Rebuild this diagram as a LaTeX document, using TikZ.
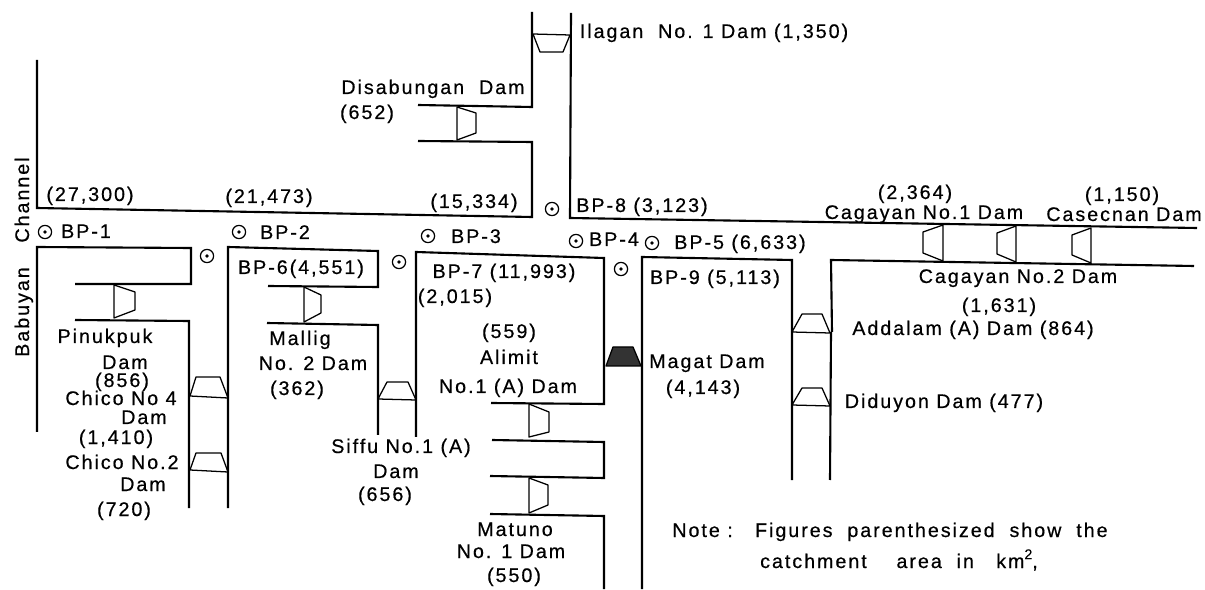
\documentclass[tikz,border=0pt]{standalone}
\usepackage{fontspec}
\setmainfont[LetterSpace=10,FakeBold=0.5]{Liberation Sans}
\begin{document}
\begin{tikzpicture}[x=0.025cm, y=-0.025cm, font=\fontsize{14}{16}\selectfont]
\tikzstyle{river}=[line width=1.5pt, line join=miter]
\tikzstyle{damline}=[line width=0.9pt, line join=round]
\tikzstyle{lbl}=[anchor=base, inner sep=0pt]
\tikzstyle{gauge}=[draw, circle, line width=0.9pt, minimum size=0.33cm, inner sep=0pt, path picture={\fill (path picture bounding box.center) circle (1.3pt);}]
\useasboundingbox (0,0) rectangle (1205,590);
% main river and the Ilagan side
\draw[river] (37,60) -- (37,208) -- (532,217) -- (532,142) -- (418,141);
\draw[river] (418,105) -- (532,107) -- (532,12);
\draw[river] (571,13) -- (570,218) -- (1197,228);
\draw[river] (832,332) -- (831,260) -- (1194,266);
\draw[river] (831,332) -- (830,480);
% Pinukpuk and Chico
\draw[river] (37,432) -- (37,247) -- (191,248) -- (191,284) -- (75,284);
\draw[river] (75,320) -- (189,321) -- (189,508);
\draw[river] (228,508) -- (228,247) -- (378,251) -- (378,287) -- (268,286);
% Mallig and Siffu
\draw[river] (267,323) -- (378,325) -- (378,435);
\draw[river] (416,437) -- (416,252) -- (604,258) -- (604,404) -- (491,403);
% Alimit and Matuno
\draw[river] (492,440) -- (604,442) -- (604,478) -- (490,476);
\draw[river] (490,514) -- (604,516) -- (604,589);
% Magat and BP-9
\draw[river] (642,589) -- (642,257) -- (792,260) -- (792,480);
% dams, left to right
\draw[damline] (114,285) -- (114,318) -- (135,310) -- (135,292) -- cycle;
\draw[damline] (190,396) -- (196,377) -- (220,377) -- (228,398) -- cycle;
\draw[damline] (190,470) -- (196,453) -- (221,453) -- (228,472) -- cycle;
\draw[damline] (304,287) -- (304,322) -- (321,313) -- (321,295) -- cycle;
\draw[damline] (378,399) -- (387,382) -- (408,382) -- (416,400) -- cycle;
\draw[damline] (457,107) -- (457,140) -- (476,133) -- (476,113) -- cycle;
\draw[damline] (533,34) -- (540,52) -- (563,52) -- (570,35) -- cycle;
\draw[damline] (529,404) -- (529,437) -- (549,432) -- (549,412) -- cycle;
\draw[damline] (529,478) -- (529,513) -- (548,505) -- (548,485) -- cycle;
\draw[damline, fill=black!80] (606,366) -- (613,347) -- (633,347) -- (641,366) -- cycle;
\draw[damline] (792,332) -- (802,314) -- (822,314) -- (830,333) -- cycle;
\draw[damline] (792,405) -- (802,388) -- (822,388) -- (830,406) -- cycle;
\draw[damline] (943,225) -- (923,232) -- (923,253) -- (943,261) -- cycle;
\draw[damline] (1016,226) -- (997,233) -- (997,254) -- (1016,262) -- cycle;
\draw[damline] (1091,228) -- (1072,235) -- (1072,255) -- (1091,263) -- cycle;
% base points
\node[gauge] (gaugeA) at (45,232) {};
\node[gauge] (gaugeB) at (207,256) {};
\node[gauge] (gaugeC) at (239,232) {};
\node[gauge] (gaugeD) at (399,262) {};
\node[gauge] (gaugeE) at (428,236) {};
\node[gauge] (gaugeF) at (552,209) {};
\node[gauge] (gaugeG) at (576,241) {};
\node[gauge] (gaugeH) at (652,243) {};
\node[gauge] (gaugeI) at (621,269) {};
% base point labels
\node[lbl] (bpA) at (86,238) {BP-1};
\node[lbl] (bpB) at (285,239) {BP-2};
\node[lbl] (bpC) at (476,243) {BP-3};
\node[lbl] (bpD) at (614,246) {BP-4};
\node[lbl] (bpE) at (740,249) {BP-5 (6,633)};
\node[lbl] (bpF) at (301,274) {BP-6(4,551)};
\node[lbl] (bpG) at (504,278) {BP-7 (11,993)};
\node[lbl] (bpH) at (642,212) {BP-8 (3,123)};
\node[lbl] (bpI) at (715,284) {BP-9 (5,113)};
% catchment areas on the main river
\node[lbl] (areaA) at (90,201) {(27,300)};
\node[lbl] (areaB) at (269,203) {(21,473)};
\node[lbl] (areaC) at (474,208) {(15,334)};
\node[lbl] (areaD) at (455,303) {(2,015)};
% dam labels
\node[lbl] (ilagan) at (714,38) {Ilagan\ \ No. 1 Dam (1,350)};
\node[lbl] (disab) at (433,94) {Disabungan\ \ Dam};
\node[lbl] (disabA) at (367,119) {(652)};
\node[lbl] (pinuk) at (105,343) {Pinukpuk};
\node[lbl] (pinukB) at (125,369) {Dam};
\node[lbl] (pinukC) at (122,387) {(856)};
\node[lbl] (chicoF) at (121,405) {Chico No 4};
\node[lbl] (chicoFb) at (144,424) {Dam};
\node[lbl] (chicoFc) at (116,444) {(1,410)};
\node[lbl] (chicoT) at (122,469) {Chico No.2};
\node[lbl] (chicoTb) at (143,491) {Dam};
\node[lbl] (chicoTc) at (124,516) {(720)};
\node[lbl] (mallig) at (300,345) {Mallig};
\node[lbl] (malligB) at (313,370) {No. 2 Dam};
\node[lbl] (malligC) at (297,395) {(362)};
\node[lbl] (siffu) at (401,453) {Siffu No.1 (A)};
\node[lbl] (siffuB) at (396,478) {Dam};
\node[lbl] (siffuC) at (385,501) {(656)};
\node[lbl] (alimitA) at (509,338) {(559)};
\node[lbl] (alimit) at (509,364) {Alimit};
\node[lbl] (alimitC) at (508,393) {No.1 (A) Dam};
\node[lbl] (matuno) at (515,536) {Matuno};
\node[lbl] (matunoB) at (511,558) {No. 1 Dam};
\node[lbl] (matunoC) at (514,582) {(550)};
\node[lbl] (magat) at (707,368) {Magat Dam};
\node[lbl] (magatB) at (703,394) {(4,143)};
\node[lbl] (cagOneA) at (915,199) {(2,364)};
\node[lbl] (cagOne) at (924,219) {Cagayan No.1 Dam};
\node[lbl] (casecA) at (1122,201) {(1,150)};
\node[lbl] (casec) at (1124,221) {Casecnan Dam};
\node[lbl] (cagTwo) at (1018,283) {Cagayan No.2 Dam};
\node[lbl] (cagTwoB) at (999,312) {(1,631)};
\node[lbl] (addalam) at (973,335) {Addalam (A) Dam (864)};
\node[lbl] (diduyon) at (944,408) {Diduyon Dam (477)};
% note
\node[lbl] (note) at (890,537) {Note :\ \ \ Figures\ \ parenthesized\ \ show\ \ the};
\node[lbl] (noteB) at (899,568) {catchment\ \ \ \ area\ \ in\ \ \ km\raisebox{0.45em}{\fontsize{10}{10}\selectfont 2},};
% channel name
\node[lbl, rotate=90] (babuyan) at (29,312) {Babuyan};
\node[lbl, rotate=90] (channel) at (29,200) {Channel};
\end{tikzpicture}
\end{document}
